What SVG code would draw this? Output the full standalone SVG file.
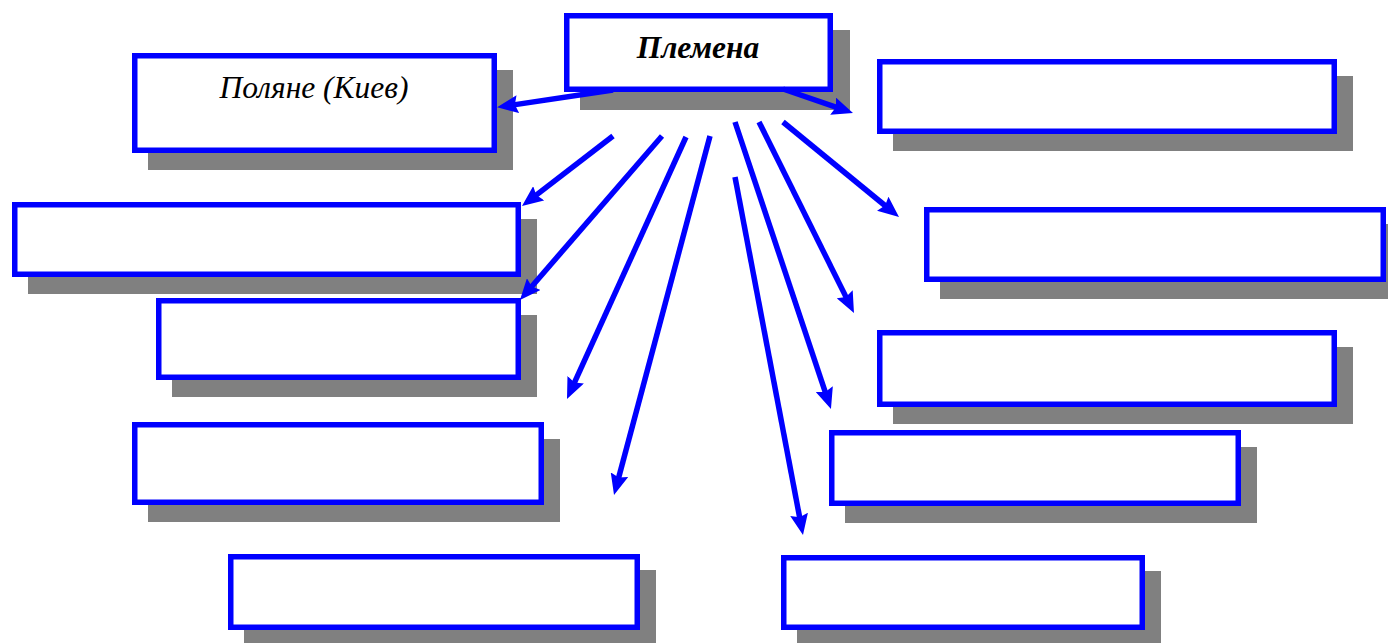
<svg xmlns="http://www.w3.org/2000/svg" width="1388" height="643" viewBox="0 0 1388 643">
<style>
.sh{fill:#808080}
.bx{fill:#fff;stroke:#0000ff;stroke-width:5.5}
.ln{stroke:#0000ff;stroke-width:5.5;fill:none;marker-end:url(#ah)}
.t{font-family:"Liberation Serif","Times New Roman",serif;font-style:italic;font-size:31.5px;fill:#000;text-anchor:middle}
</style>
<defs>
<marker id="ah" viewBox="0 0 21 18" refX="6" refY="9" markerWidth="21" markerHeight="18" markerUnits="userSpaceOnUse" orient="auto">
<path d="M0,0 L21,9 L0,18 L3,9 Z" fill="#0000ff"/>
</marker>
</defs>
<g id="n-center">
<rect class="sh" x="580" y="30" width="270" height="80"/>
<rect class="bx" x="566.75" y="15.75" width="263.5" height="73.5"/>
<text class="t" x="698" y="58" font-weight="bold" font-size="32.5">Племена</text>
</g>
<g id="n-polyane">
<rect class="sh" x="148" y="70" width="365" height="100"/>
<rect class="bx" x="134.75" y="55.75" width="359.5" height="94.5"/>
<text class="t" x="314" y="98">Поляне (Киев)</text>
</g>
<g id="n-l2">
<rect class="sh" x="28" y="219" width="509" height="75"/>
<rect class="bx" x="14.75" y="204.75" width="503.5" height="69.5"/>
</g>
<g id="n-l3">
<rect class="sh" x="172" y="315" width="365" height="82"/>
<rect class="bx" x="158.75" y="300.75" width="359.5" height="76.5"/>
</g>
<g id="n-l4">
<rect class="sh" x="148" y="439" width="412" height="83"/>
<rect class="bx" x="134.75" y="424.75" width="406.5" height="77.5"/>
</g>
<g id="n-l5">
<rect class="sh" x="244" y="570" width="412" height="76"/>
<rect class="bx" x="230.75" y="556.75" width="406.5" height="70.5"/>
</g>
<g id="n-r1">
<rect class="sh" x="893" y="76" width="460" height="75"/>
<rect class="bx" x="879.75" y="61.75" width="454.5" height="69.5"/>
</g>
<g id="n-r2">
<rect class="sh" x="940" y="224" width="462" height="75"/>
<rect class="bx" x="926.75" y="209.75" width="456.5" height="69.5"/>
</g>
<g id="n-r3">
<rect class="sh" x="893" y="347" width="460" height="77"/>
<rect class="bx" x="879.75" y="332.75" width="454.5" height="71.5"/>
</g>
<g id="n-r4">
<rect class="sh" x="845" y="447" width="412" height="76"/>
<rect class="bx" x="831.75" y="432.75" width="406.5" height="70.5"/>
</g>
<g id="n-r5">
<rect class="sh" x="797" y="571" width="364" height="76"/>
<rect class="bx" x="783.75" y="557.75" width="358.5" height="69.5"/>
</g>
<g id="connectors">
<line class="ln" x1="613" y1="90" x2="511.9" y2="105.1"/>
<line class="ln" x1="783" y1="89" x2="838.8" y2="108.1"/>
<line class="ln" x1="613" y1="136" x2="533.9" y2="196.9"/>
<line class="ln" x1="662" y1="136" x2="529.8" y2="288.7"/>
<line class="ln" x1="686" y1="137" x2="573.2" y2="385.3"/>
<line class="ln" x1="710" y1="136" x2="617.9" y2="480.5"/>
<line class="ln" x1="735" y1="177" x2="800.2" y2="520.3"/>
<line class="ln" x1="735" y1="122" x2="826.2" y2="394.8"/>
<line class="ln" x1="759" y1="122" x2="847.3" y2="299.6"/>
<line class="ln" x1="783" y1="122" x2="887.4" y2="207.5"/>
</g>
</svg>
